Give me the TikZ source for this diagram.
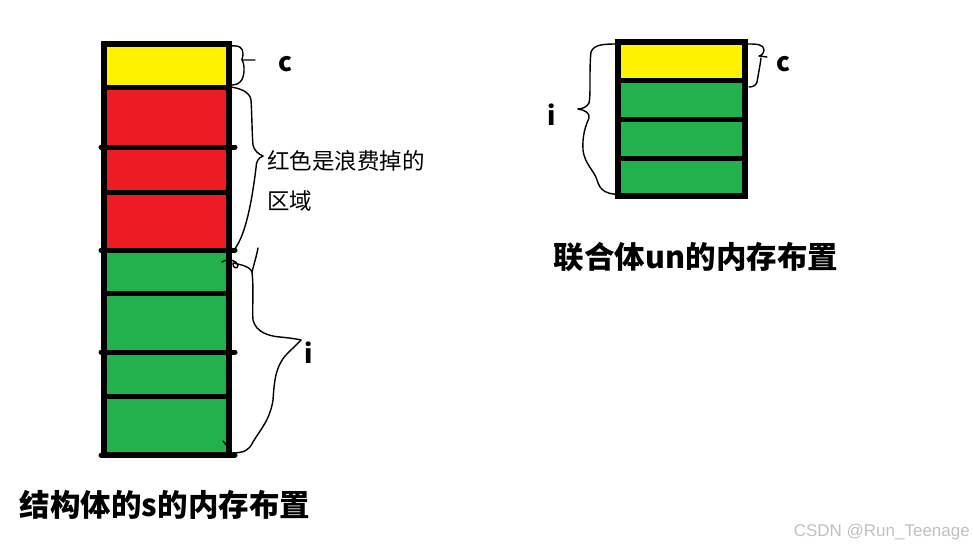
\documentclass[tikz,border=0pt]{standalone}
\usepackage{fontspec}
\newfontfamily\cjk{Noto Sans CJK SC}
\setsansfont{Liberation Sans}
\usepackage{tikz}
\usetikzlibrary{positioning}
\definecolor{mem-yellow}{HTML}{FFF200}
\definecolor{mem-red}{HTML}{ED1C24}
\definecolor{mem-green}{HTML}{22B14C}
\definecolor{mark-gray}{HTML}{C0C0C0}

\begin{document}
\begin{tikzpicture}[x=1pt, y=-1pt,
    cellline/.style={line width=5pt, line cap=round},
    brace/.style={black, line width=1.4pt, line join=round, line cap=round},
    title/.style={font=\cjk\bfseries\fontsize{30.5}{32}\selectfont, inner sep=0pt},
    letter/.style={font=\cjk\bfseries\fontsize{26}{28}\selectfont, inner sep=0pt}]
    \useasboundingbox (0,0) rectangle (974,549);

    % Struct s (left column)
    \fill[mem-yellow] (104,44) rectangle (229,87);
    \fill[mem-red] (104,87) rectangle (229,250);
    \fill[mem-green] (104,250) rectangle (229,455);
    \foreach \y in {87, 192, 293, 396} {
        \draw[cellline] (104,\y) -- (229,\y);
    }
    \foreach \y in {147, 250, 352, 455} {
        \draw[cellline] (101,\y) -- (235,\y);
    }
    \draw[line width=6pt] (104,44) rectangle (229,455);

    % Brace c (left)
    \draw[brace] (230,46) .. controls (240,45) and (243,48) .. (243,54)
        .. controls (243,58) and (241,60) .. (242,60) -- (255,60);
    \draw[brace] (242,60) .. controls (245,64) and (245,78) .. (240,82)
        .. controls (237,85) and (233,85) .. (230,85);
    \node[letter] (cleft) at (285,64) {c};

    % Brace for the wasted red area
    \draw[brace] (230,87) .. controls (240,88) and (250,92) .. (251,100)
        .. controls (252,115) and (252,135) .. (253,145)
        .. controls (254,150) and (258,154) .. (263,156);
    \draw[brace] (263,156) .. controls (258,158) and (256,162) .. (256,168)
        .. controls (252,200) and (246,235) .. (234,250);
    \node[font=\cjk\fontsize{22.5}{40}\selectfont, anchor=west, align=left, inner sep=0pt] (waste) at (267,181)
        {红色是浪费掉的\\区域};

    % Brace i (left)
    \draw[brace] (258,248) .. controls (256,258) and (254,264) .. (252,272);
    \draw[brace] (222,262) .. controls (228,258) and (236,260) .. (238,265)
        .. controls (238,270) and (232,268) .. (233,263)
        .. controls (238,264) and (250,266) .. (252,272)
        .. controls (254,290) and (252,310) .. (253,320)
        .. controls (256,332) and (268,336) .. (280,337)
        .. controls (290,338) and (297,339) .. (301,340);
    \draw[brace] (301,340) .. controls (294,348) and (285,354) .. (281,362)
        .. controls (275,372) and (274,385) .. (273,400)
        .. controls (270,420) and (260,430) .. (253,442)
        .. controls (249,450) and (245,453) .. (231,453);
    \draw[brace] (223,441) -- (227,446);
    \node[letter] (ileft) at (309,353) {i};

    \node[title] (stitle) at (165,505) {结构体的s的内存布置};

    % Union un (right column)
    \fill[mem-yellow] (618,42) rectangle (745,80);
    \fill[mem-green] (618,80) rectangle (745,196);
    \foreach \y in {80, 119, 158} {
        \draw[cellline] (618,\y) -- (745,\y);
    }
    \draw[line width=6pt] (618,42) rectangle (745,196);

    % Brace c (right)
    \draw[brace] (748,44) .. controls (756,44) and (764,44) .. (764,50)
        .. controls (764,54) and (760,56) .. (759,56) -- (767,57);
    \draw[brace] (761,58) .. controls (760,66) and (758,76) .. (757,82)
        .. controls (756,86) and (752,87) .. (749,87);
    \node[letter] (cright) at (783,64) {c};

    % Brace i (right)
    \draw[brace] (618,44) .. controls (605,44) and (594,44) .. (591,52)
        .. controls (589,70) and (591,95) .. (589,103)
        .. controls (587,107) and (582,109) .. (578,109);
    \draw[brace] (578,109) .. controls (585,110) and (590,113) .. (589,118)
        .. controls (586,125) and (582,135) .. (583,150)
        .. controls (585,165) and (594,170) .. (597,180)
        .. controls (600,190) and (605,196) .. (628,194);
    \node[letter] (iright) at (552,115) {i};

    \node[title] (untitle) at (696,257) {联合体un的内存布置};

    % Watermark
    \node[font=\sffamily\fontsize{17}{18}\selectfont, text=mark-gray, anchor=east, inner sep=0pt] (mark) at (970,532)
        {CSDN @Run\_Teenage};
\end{tikzpicture}
\end{document}
